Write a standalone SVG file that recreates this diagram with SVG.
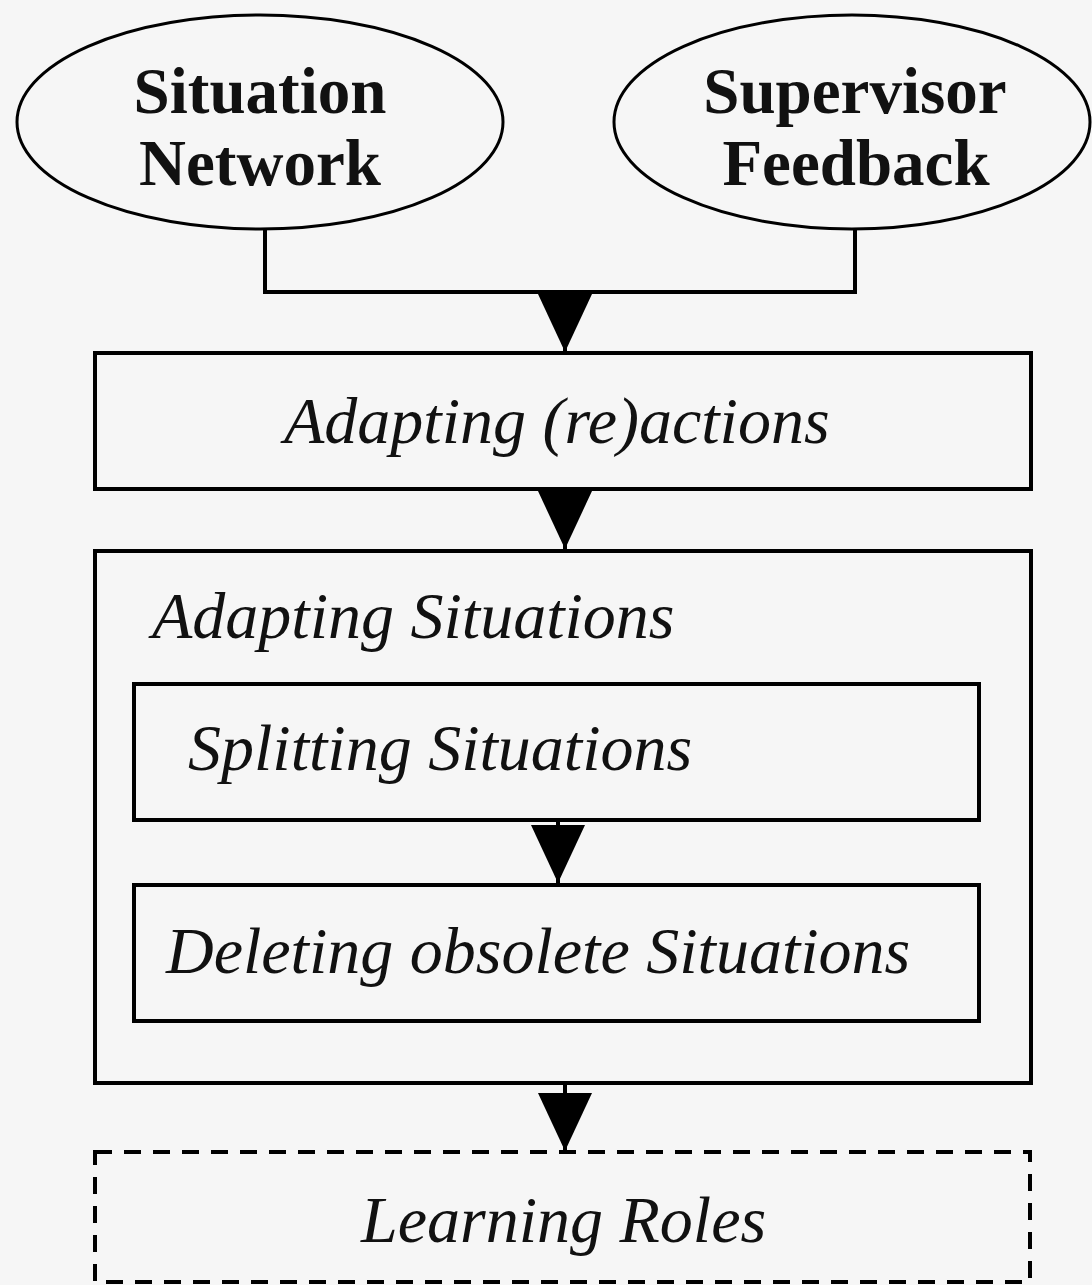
<svg xmlns="http://www.w3.org/2000/svg" width="1092" height="1285" viewBox="0 0 1092 1285">
<style>
.bg{fill:#f6f6f6}
.shape{fill:#f6f6f6;stroke:#000;stroke-width:4}
.ell{fill:#f6f6f6;stroke:#000;stroke-width:3}
.dash{fill:none;stroke:#000;stroke-width:4;stroke-dasharray:17 12}
.conn{fill:none;stroke:#000;stroke-width:4}
.bold{font-family:"Liberation Serif","Times New Roman",serif;font-weight:bold;font-size:65px;fill:#111;text-anchor:middle}
.it{font-family:"Liberation Serif","Times New Roman",serif;font-style:italic;font-size:66px;fill:#111}
</style>
<defs>
<marker id="tri" markerUnits="userSpaceOnUse" viewBox="0 -28 58 56" refX="58" refY="0" markerWidth="58" markerHeight="56" orient="auto">
<path d="M0,-27 L58,0 L0,27 Z" fill="#000"/>
</marker>
</defs>
<rect class="bg" x="0" y="0" width="1092" height="1285"/>
<g id="situation-network">
<ellipse class="ell" cx="260" cy="122" rx="243" ry="107"/>
<text class="bold" x="260" y="113">Situation</text>
<text class="bold" x="260" y="185">Network</text>
</g>
<g id="supervisor-feedback">
<ellipse class="ell" cx="852" cy="122" rx="238" ry="107"/>
<text class="bold" x="855" y="113">Supervisor</text>
<text class="bold" x="856" y="185">Feedback</text>
</g>
<g id="adapting-reactions">
<rect class="shape" x="95" y="353" width="936" height="136"/>
<text class="it" x="284" y="443">Adapting (re)actions</text>
</g>
<g id="adapting-situations">
<rect class="shape" x="95" y="551" width="936" height="532"/>
<text class="it" x="152" y="638">Adapting Situations</text>
</g>
<g id="splitting-situations">
<rect class="shape" x="134" y="684" width="845" height="136"/>
<text class="it" x="188" y="770">Splitting Situations</text>
</g>
<g id="deleting-obsolete-situations">
<rect class="shape" x="134" y="885" width="845" height="136"/>
<text class="it" x="166" y="973">Deleting obsolete Situations</text>
</g>
<g id="learning-roles">
<rect class="dash" x="95" y="1152" width="935" height="130"/>
<text class="it" x="361" y="1242">Learning Roles</text>
</g>
<g id="connectors">
<path class="conn" d="M265,229 V292 H855 V229"/>
<line class="conn" x1="565" y1="292" x2="565" y2="352" marker-end="url(#tri)"/>
<line class="conn" x1="565" y1="489" x2="565" y2="549" marker-end="url(#tri)"/>
<line class="conn" x1="558" y1="820" x2="558" y2="883" marker-end="url(#tri)"/>
<line class="conn" x1="565" y1="1083" x2="565" y2="1151" marker-end="url(#tri)"/>
</g>
</svg>
